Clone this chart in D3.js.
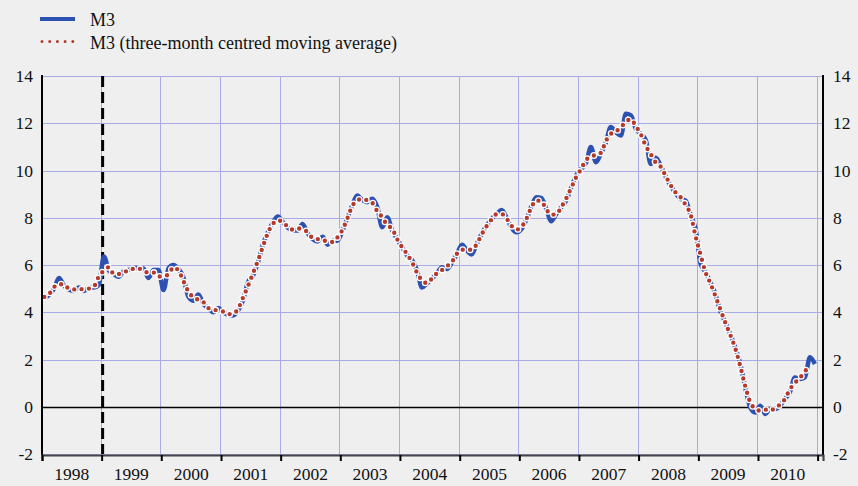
<!DOCTYPE html>
<html>
<head>
<meta charset="utf-8">
<script src="https://cdn.jsdelivr.net/npm/d3@7"></script>
<style>
  html, body { margin: 0; padding: 0; background: #efefef; }
  svg { display: block; }
  svg text { font-family: "Liberation Serif", "Times New Roman", serif; }
</style>
</head>
<body>
<script>
// monthly annual growth rates, Jan 1998 onwards
const m3 = [
  4.6, 4.75, 4.99, 5.45, 5.13, 4.96, 4.9, 5.05, 4.9, 5.05, 5.05, 5.16,
  6.36, 5.76, 5.62, 5.5, 5.73, 5.79, 5.87, 5.87, 5.84, 5.45, 5.79, 5.79,
  4.94, 5.87, 6.0, 5.84, 5.48, 4.66, 4.49, 4.75, 4.35, 4.18, 4.0, 4.18,
  4.0, 3.9, 3.86, 4.07, 4.5, 5.27, 5.55, 6.11, 6.89, 7.39, 7.81, 8.05,
  7.81, 7.57, 7.46, 7.46, 7.74, 7.34, 7.1, 7.0, 7.2, 6.86, 7.03, 7.03,
  7.46, 8.02, 8.52, 8.94, 8.76, 8.66, 8.8, 8.45, 7.6, 8.02, 7.46, 7.1,
  6.75, 6.4, 6.21, 5.76, 5.05, 5.23, 5.41, 5.65, 5.9, 5.83, 6.11, 6.47,
  6.86, 6.61, 6.44, 6.89, 7.32, 7.67, 7.95, 8.16, 8.33, 8.0, 7.57, 7.39,
  7.53, 7.95, 8.47, 8.87, 8.84, 8.38, 7.85, 8.16, 8.45, 8.73, 9.29, 9.79,
  10.07, 10.35, 10.99, 10.35, 10.71, 11.2, 11.84, 11.62, 11.48, 12.4, 12.33, 11.77,
  11.55, 11.27, 10.28, 10.54, 10.21, 9.75, 9.36, 9.04, 8.8, 8.73, 8.09, 7.53,
  6.05, 5.69, 5.27, 4.77, 4.04, 3.57, 3.08, 2.51, 1.81, 0.82, -0.03, -0.24,
  0.04, -0.31, -0.1, -0.1, 0.04, 0.33, 0.61, 1.24, 1.17, 1.24, 2.09, 1.81
];

const m3avg = [
  4.65, 4.78, 5.06, 5.19, 5.18, 5.0, 4.97, 4.95, 5.0, 5.0, 5.09, 5.52,
  5.76, 5.91, 5.63, 5.62, 5.67, 5.8, 5.84, 5.86, 5.72, 5.69, 5.68, 5.51,
  5.53, 5.6, 5.9, 5.77, 5.33, 4.88, 4.63, 4.53, 4.43, 4.18, 4.12, 4.06,
  4.03, 3.92, 3.94, 4.14, 4.61, 5.11, 5.64, 6.18, 6.8, 7.36, 7.75, 7.89,
  7.81, 7.61, 7.5, 7.55, 7.51, 7.39, 7.15, 7.1, 7.02, 7.03, 6.97, 7.17,
  7.5, 8.0, 8.49, 8.74, 8.79, 8.74, 8.64, 8.28, 8.02, 7.69, 7.53, 7.1,
  6.75, 6.45, 6.12, 5.67, 5.35, 5.23, 5.43, 5.65, 5.79, 5.95, 6.14, 6.48,
  6.65, 6.64, 6.65, 6.88, 7.29, 7.65, 7.93, 8.15, 8.16, 7.97, 7.65, 7.5,
  7.62, 7.98, 8.43, 8.73, 8.7, 8.36, 8.13, 8.15, 8.45, 8.82, 9.27, 9.72,
  10.07, 10.47, 10.56, 10.68, 10.75, 11.25, 11.55, 11.65, 11.83, 12.07, 12.17, 11.88,
  11.53, 11.03, 10.7, 10.34, 10.17, 9.77, 9.38, 9.07, 8.86, 8.54, 8.12, 7.22,
  6.42, 5.67, 5.24, 4.69, 4.13, 3.56, 3.05, 2.47, 1.71, 0.87, 0.18, -0.08,
  -0.17, -0.12, -0.17, -0.05, 0.09, 0.33, 0.73, 1.01, 1.22, 1.5, 1.71
];

const years = [1998, 1999, 2000, 2001, 2002, 2003, 2004, 2005, 2006, 2007, 2008, 2009, 2010];
const yTicks = [-2, 0, 2, 4, 6, 8, 10, 12, 14];
const seriesNames = ["M3", "M3 (three-month centred moving average)"];

const width = 858, height = 486;
const plotLeft = 42, plotRight = 823, plotTop = 76, plotBottom = 454;

const svg = d3.select("body").append("svg")
  .attr("width", width)
  .attr("height", height);

svg.append("rect").attr("width", width).attr("height", height).attr("fill", "#efefef");

// month date for each observation (mid-month)
const monthDate = i => new Date(1998, i, 15);

const x = d3.scaleTime()
  .domain([new Date(1998, 0, 1), new Date(2011, 1, 3)])
  .range([plotLeft, plotRight]);
const y = d3.scaleLinear()
  .domain([-2, 14])
  .range([plotBottom, plotTop]);

const yearStarts = years.map(yr => new Date(yr, 0, 1)).concat([new Date(2011, 0, 1)]);

// grid
const grid = svg.append("g").attr("stroke", "#a9aae6").attr("stroke-width", 1);
grid.selectAll("line.h")
  .data(yTicks.filter(t => t !== 0))
  .enter().append("line")
  .attr("x1", plotLeft).attr("x2", plotRight - 1)
  .attr("y1", d => Math.round(y(d)) + 0.5).attr("y2", d => Math.round(y(d)) + 0.5);
grid.selectAll("line.v")
  .data(yearStarts.slice(1))
  .enter().append("line")
  .attr("x1", d => Math.round(x(d)) - 0.5).attr("x2", d => Math.round(x(d)) - 0.5)
  .attr("y1", plotTop).attr("y2", plotBottom);

// zero line
svg.append("line")
  .attr("x1", plotLeft).attr("x2", plotRight)
  .attr("y1", Math.round(y(0)) + 0.5).attr("y2", Math.round(y(0)) + 0.5)
  .attr("stroke", "#000").attr("stroke-width", 1.5);

// euro start marker
svg.append("line")
  .attr("x1", x(new Date(1999, 0, 1)) + 1).attr("x2", x(new Date(1999, 0, 1)) + 1)
  .attr("y1", plotTop).attr("y2", plotBottom)
  .attr("stroke", "#000").attr("stroke-width", 3)
  .attr("stroke-dasharray", "11,5");

// M3 line
const line = d3.line()
  .x((d, i) => x(monthDate(i)))
  .y(d => y(d))
  .curve(d3.curveMonotoneX);

svg.append("path")
  .attr("d", line(m3))
  .attr("fill", "none")
  .attr("stroke", "#2c51b1")
  .attr("stroke-width", 4.5)
  .attr("stroke-linejoin", "round");

// moving average, dotted
svg.append("path")
  .attr("d", line(m3avg))
  .attr("fill", "none")
  .attr("stroke", "#fff")
  .attr("stroke-width", 7)
  .attr("stroke-linecap", "round")
  .attr("stroke-dasharray", "0,7.4");
svg.append("path")
  .attr("d", line(m3avg))
  .attr("fill", "none")
  .attr("stroke", "#b63a2c")
  .attr("stroke-width", 4.4)
  .attr("stroke-linecap", "round")
  .attr("stroke-dasharray", "0,7.4");

// axes
const leftAxis = d3.axisLeft(y).tickValues(yTicks).tickSize(0).tickPadding(9).tickFormat(d => String(d));
const rightAxis = d3.axisRight(y).tickValues(yTicks).tickSize(0).tickPadding(10).tickFormat(d => String(d));

const gl = svg.append("g").attr("transform", `translate(${plotLeft},0)`).call(leftAxis);
const gr = svg.append("g").attr("transform", `translate(${plotRight},0)`).call(rightAxis);
[gl, gr].forEach(g => {
  g.select(".domain").remove();
  g.selectAll("text").style("font-size", "17.5px").attr("fill", "#111");
});

svg.append("line").attr("x1", plotLeft).attr("x2", plotLeft).attr("y1", plotTop - 1).attr("y2", plotBottom + 1)
  .attr("stroke", "#000").attr("stroke-width", 2);
svg.append("line").attr("x1", plotRight).attr("x2", plotRight).attr("y1", plotTop - 1).attr("y2", plotBottom + 1)
  .attr("stroke", "#000").attr("stroke-width", 2);

const bottomAxis = d3.axisBottom(x).tickValues(yearStarts).tickSize(6).tickFormat("");
const gb = svg.append("g").attr("transform", `translate(0,${plotBottom + 1})`).call(bottomAxis);
gb.select(".domain").attr("stroke", "#444").attr("stroke-width", 2.2);
gb.selectAll(".tick line").attr("stroke", "#000").attr("stroke-width", 2);

svg.append("g").selectAll("text")
  .data(years)
  .enter().append("text")
  .attr("x", d => x(new Date(d, 6, 2)))
  .attr("y", 480)
  .attr("text-anchor", "middle")
  .style("font-size", "17.5px")
  .attr("fill", "#111")
  .text(d => d);

// legend
const legend = svg.append("g");
legend.append("line")
  .attr("x1", 40).attr("x2", 75).attr("y1", 19).attr("y2", 19)
  .attr("stroke", "#2c51b1").attr("stroke-width", 4);
legend.append("line")
  .attr("x1", 42).attr("x2", 74).attr("y1", 41.5).attr("y2", 41.5)
  .attr("stroke", "#b63a2c").attr("stroke-width", 3)
  .attr("stroke-linecap", "round").attr("stroke-dasharray", "0,7.7");
legend.selectAll("text")
  .data(seriesNames)
  .enter().append("text")
  .attr("x", 90)
  .attr("y", (d, i) => 25.5 + i * 23)
  .style("font-size", "18px")
  .attr("fill", "#111")
  .text(d => d);
</script>
</body>
</html>
